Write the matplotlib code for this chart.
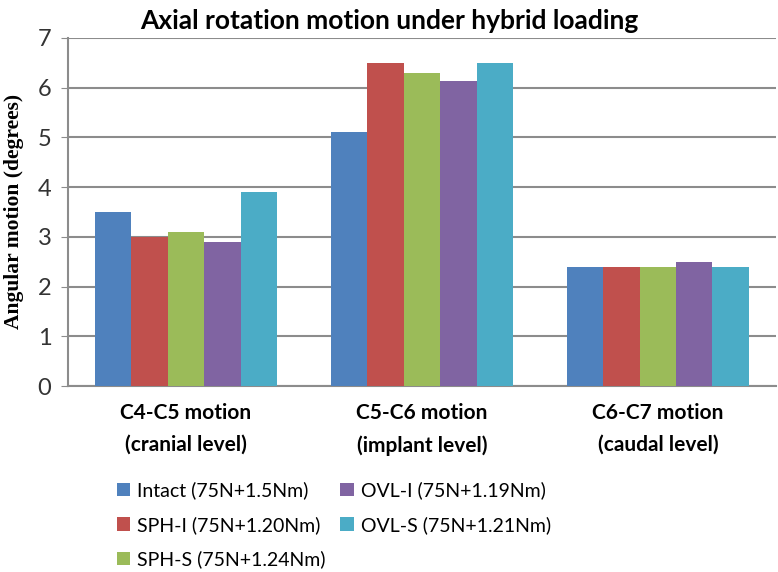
import numpy as np
import matplotlib
matplotlib.use("Agg")
import matplotlib.pyplot as plt

# ----------------------------------------------------------------------------
# Data
# ----------------------------------------------------------------------------
CATEGORIES = ["C4-C5 motion\n(cranial level)",
              "C5-C6 motion\n(implant level)",
              "C6-C7 motion\n(caudal level)"]
SERIES = ["Intact (75N+1.5Nm)", "SPH-I (75N+1.20Nm)", "SPH-S (75N+1.24Nm)",
          "OVL-I (75N+1.19Nm)", "OVL-S (75N+1.21Nm)"]
INTACT = [3.5, 5.1, 2.4]
SPH_I = [3.0, 6.5, 2.4]
SPH_S = [3.1, 6.3, 2.4]
OVL_I = [2.9, 6.13, 2.5]
OVL_S = [3.9, 6.5, 2.4]
Y_TICKS = [0, 1, 2, 3, 4, 5, 6, 7]

COLORS = ["#4F81BD", "#C0504D", "#9BBB59", "#8064A2", "#4BACC6"]
GRID = "#8c8c8c"

plt.rcParams["font.family"] = ["Lato", "DejaVu Sans"]

fig = plt.figure(figsize=(7.78, 5.72), dpi=100)
ax = fig.add_axes([0.0874, 0.325, 0.91, 0.609])

x = np.arange(len(CATEGORIES))
bw = 0.154
values = [INTACT, SPH_I, SPH_S, OVL_I, OVL_S]
for i, (vals, lab, col) in enumerate(zip(values, SERIES, COLORS)):
    ax.bar(x + (i - 2) * bw, vals, width=bw, color=col, label=lab, zorder=3)

ax.set_xlim(-0.5, 2.5)
ax.set_ylim(0, 7)
ax.set_yticks(Y_TICKS)
ax.tick_params(axis="y", labelsize=17, length=5, color=GRID, pad=7, labelcolor="#333333")
ax.set_xticks(x)
ax.set_xticklabels(CATEGORIES, fontsize=15, fontweight="bold", linespacing=1.75)
ax.tick_params(axis="x", length=0, pad=12)
ax.yaxis.grid(True, color=GRID, lw=1.5, zorder=0)

for s in ["top", "right"]:
    ax.spines[s].set_visible(False)
for s in ["left", "bottom"]:
    ax.spines[s].set_color(GRID)
    ax.spines[s].set_linewidth(1.5)

ax.set_ylabel("Angular motion (degrees)", fontsize=15.5, fontweight="bold",
              family="Liberation Serif")
ax.yaxis.set_label_coords(-0.062, 0.5)

fig.suptitle("Axial rotation motion under hybrid loading", fontsize=19,
             fontweight="bold", x=0.5, y=0.985)

fig.legend(loc="upper left", bbox_to_anchor=(0.14, 0.172), ncol=2,
           frameon=False, fontsize=14, handlelength=0.7, handleheight=0.7,
           handletextpad=0.35, columnspacing=0.75, labelspacing=0.85,
           borderaxespad=0)

fig.savefig("out.png", dpi=100)
